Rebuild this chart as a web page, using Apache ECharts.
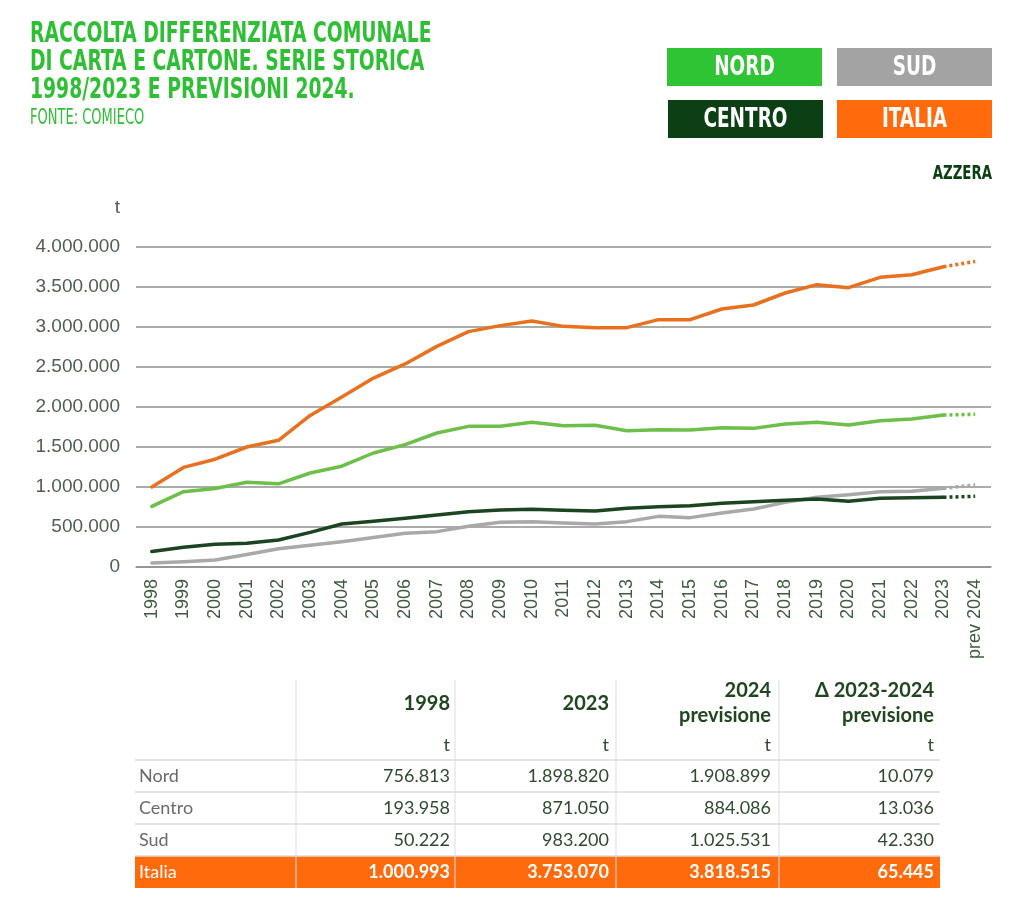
<!DOCTYPE html>
<html><head><meta charset="utf-8">
<script src="https://cdn.jsdelivr.net/npm/echarts@6/dist/echarts.min.js"></script>
<style>html,body{margin:0;padding:0;background:#fff}#c{width:1024px;height:920px}</style>
</head><body><div id="c"></div>
<script>
// ---------- DATA ----------
const years = ['1998','1999','2000','2001','2002','2003','2004','2005','2006','2007','2008','2009','2010','2011','2012','2013','2014','2015','2016','2017','2018','2019','2020','2021','2022','2023','prev 2024'];
const nord   = [756813, 942000, 982000, 1060000, 1040000, 1175000, 1260000, 1425000, 1530000, 1675000, 1758000, 1758000, 1808000, 1767000, 1771000, 1704000, 1717000, 1713000, 1742000, 1733000, 1788000, 1808000, 1775000, 1829000, 1850000, 1898820, 1908899];
const centro = [193958, 246000, 283000, 296000, 338000, 433000, 538000, 571000, 608000, 650000, 692000, 713000, 721000, 708000, 700000, 733000, 754000, 767000, 796000, 817000, 833000, 850000, 821000, 858000, 867000, 871050, 884086];
const sud    = [50222, 67000, 88000, 156000, 227000, 273000, 317000, 369000, 423000, 442000, 510000, 560000, 565000, 550000, 538000, 567000, 633000, 617000, 675000, 725000, 808000, 871000, 904000, 942000, 946000, 983200, 1025531];
const italia = [1000993, 1245000, 1347000, 1500000, 1584000, 1894000, 2125000, 2362000, 2538000, 2758000, 2942000, 3017000, 3075000, 3008000, 2992000, 2992000, 3092000, 3092000, 3225000, 3275000, 3425000, 3529000, 3492000, 3621000, 3654000, 3753070, 3818515];

const titleLines = ['RACCOLTA DIFFERENZIATA COMUNALE', 'DI CARTA E CARTONE. SERIE STORICA', '1998/2023 E PREVISIONI 2024.'];
const sourceText = 'FONTE: COMIECO';
const legendNames = ['NORD', 'SUD', 'CENTRO', 'ITALIA'];
const resetText = 'AZZERA';
const unitText = 't';

const tableHeaders = [['1998'], ['2023'], ['2024', 'previsione'], ['Δ 2023-2024', 'previsione']];
const tableRowNames = ['Nord', 'Centro', 'Sud', 'Italia'];
const col1998 = ['756.813', '193.958', '50.222', '1.000.993'];
const col2023 = ['1.898.820', '871.050', '983.200', '3.753.070'];
const col2024 = ['1.908.899', '884.086', '1.025.531', '3.818.515'];
const colDelta = ['10.079', '13.036', '42.330', '65.445'];

// ---------- STYLE ----------
const C = {
  title: '#2fbf35',
  nordBox: '#2ec434', sudBox: '#a3a3a3', centroBox: '#0b4014', italiaBox: '#ff6a0c',
  nord: '#6cc04a', centro: '#1b4420', sud: '#a9a9a9', italia: '#e8711f',
  grid: '#8c918c', axisText: '#4f5f4f', xText: '#3f5a3f'
};
const boxColors = { NORD: C.nordBox, SUD: C.sudBox, CENTRO: C.centroBox, ITALIA: C.italiaBox };
const COND = '"Liberation Sans Narrow", "DejaVu Sans Condensed", sans-serif';

function fmt(v) { return String(v).replace(/\B(?=(\d{3})+(?!\d))/g, '.'); }
function solidPart(arr) { return arr.map((v, i) => i < arr.length - 1 ? v : '-'); }
function dotPart(arr) { return arr.map((v, i) => i >= arr.length - 2 ? v : '-'); }

function txt(text, x, y, font, fill, align, vAlign, sx) {
  return {
    type: 'text', x: x, y: y, scaleX: sx || 1, silent: true,
    style: { text: text, x: 0, y: 0, font: font, fill: fill,
      textAlign: align || 'left', textVerticalAlign: vAlign || 'top',
      align: align || 'left', verticalAlign: vAlign || 'top' }
  };
}

const graphics = [];
// Title
titleLines.forEach((t, i) => {
  graphics.push(txt(t, 30, 21 + i * 28, 'bold 28px ' + COND, C.title, 'left', 'top', 0.745));
});
graphics.push(txt(sourceText, 30, 108, '21px ' + COND, C.title, 'left', 'top', 0.69));

// Legend boxes
const boxPos = [[667, 48], [837, 48], [668, 100], [837, 100]];
legendNames.forEach((n, i) => {
  const [bx, by] = boxPos[i];
  graphics.push({ type: 'rect', silent: true, shape: { x: bx, y: by, width: 155, height: 38 }, style: { fill: boxColors[n] } });
  graphics.push(txt(n, bx + 77.5, by + 20, 'bold 27px ' + COND, '#ffffff', 'center', 'middle', 0.76));
});
graphics.push(txt(resetText, 992, 174, 'bold 19px ' + COND, C.centroBox, 'right', 'middle', 0.78));

// Unit label
graphics.push(txt(unitText, 120, 208, '19px "Liberation Sans", Arial, sans-serif', C.axisText, 'right', 'middle', 1));

// Table
const tLeft = 135, tRight = 940;
const colEdges = [296, 455, 616, 779];
const colRight = [450, 609, 771, 934];
const rowTop = [760, 792, 824, 856];
const rowH = 32;
graphics.push({ type: 'rect', silent: true, shape: { x: tLeft, y: rowTop[3], width: tRight - tLeft, height: rowH }, style: { fill: C.italiaBox } });
rowTop.forEach(y => {
  graphics.push({ type: 'line', silent: true, shape: { x1: tLeft, y1: y, x2: tRight, y2: y }, style: { stroke: '#d9dcd9', lineWidth: 1.5 } });
});
colEdges.forEach(x => {
  graphics.push({ type: 'line', silent: true, shape: { x1: x, y1: 680, x2: x, y2: 888 }, style: { stroke: '#d9dcd9', lineWidth: 1 } });
});
const headFont = 'bold 20px Lato, "Open Sans", sans-serif';
tableHeaders.forEach((h, i) => {
  if (h.length === 1) {
    graphics.push(txt(h[0], colRight[i], 704, headFont, '#1f461f', 'right', 'middle', 1));
  } else {
    graphics.push(txt(h[0], colRight[i], 691, headFont, '#1f461f', 'right', 'middle', 1));
    graphics.push(txt(h[1], colRight[i], 716, headFont, '#1f461f', 'right', 'middle', 1));
  }
  graphics.push(txt(unitText, colRight[i], 745, '18px Lato, sans-serif', '#2f4a2f', 'right', 'middle', 1));
});
const cols = [col1998, col2023, col2024, colDelta];
tableRowNames.forEach((name, r) => {
  const cy = rowTop[r] + rowH / 2;
  const isTot = r === 3;
  graphics.push(txt(name, 139, cy, '18px Lato, sans-serif', isTot ? '#ffffff' : '#6a6a6a', 'left', 'middle', 1));
  cols.forEach((col, c) => {
    graphics.push(txt(col[r], colRight[c], cy, (isTot ? 'bold ' : '') + '18px Lato, sans-serif', isTot ? '#ffffff' : '#2f4a2f', 'right', 'middle', 1));
  });
});

// ---------- CHART ----------
const chart = echarts.init(document.getElementById('c'), null, { renderer: 'canvas' });
function lineSeries(name, arr, color, dotted) {
  return {
    name: name, type: 'line', data: dotted ? dotPart(arr) : solidPart(arr),
    symbol: 'none', connectNulls: false, silent: true,
    lineStyle: { color: color, width: 3.5, type: dotted ? [3, 3] : 'solid', cap: dotted ? 'butt' : 'round', join: 'round' },
    itemStyle: { color: color }
  };
}
chart.setOption({
  animation: false,
  backgroundColor: '#ffffff',
  grid: { left: 136, right: 33, top: 247, bottom: 353, containLabel: false },
  xAxis: {
    type: 'category', data: years, boundaryGap: true,
    axisLine: { lineStyle: { color: C.grid, width: 1.5 } },
    axisTick: { show: false },
    axisLabel: { rotate: 90, interval: 0, margin: 12, fontSize: 18, color: C.xText, fontFamily: '"Liberation Sans", Arial, sans-serif' }
  },
  yAxis: {
    type: 'value', min: 0, max: 4000000, interval: 500000,
    axisLine: { show: false }, axisTick: { show: false },
    splitLine: { lineStyle: { color: C.grid, width: 1.5 } },
    axisLabel: { margin: 16, fontSize: 19, color: C.axisText, fontFamily: '"Liberation Sans", Arial, sans-serif', formatter: v => fmt(v) }
  },
  series: [
    lineSeries('Sud', sud, C.sud, false),
    lineSeries('Sud prev', sud, C.sud, true),
    lineSeries('Centro', centro, C.centro, false),
    lineSeries('Centro prev', centro, C.centro, true),
    lineSeries('Nord', nord, C.nord, false),
    lineSeries('Nord prev', nord, C.nord, true),
    lineSeries('Italia', italia, C.italia, false),
    lineSeries('Italia prev', italia, C.italia, true)
  ],
  graphic: { elements: graphics }
});
</script>
</body></html>
